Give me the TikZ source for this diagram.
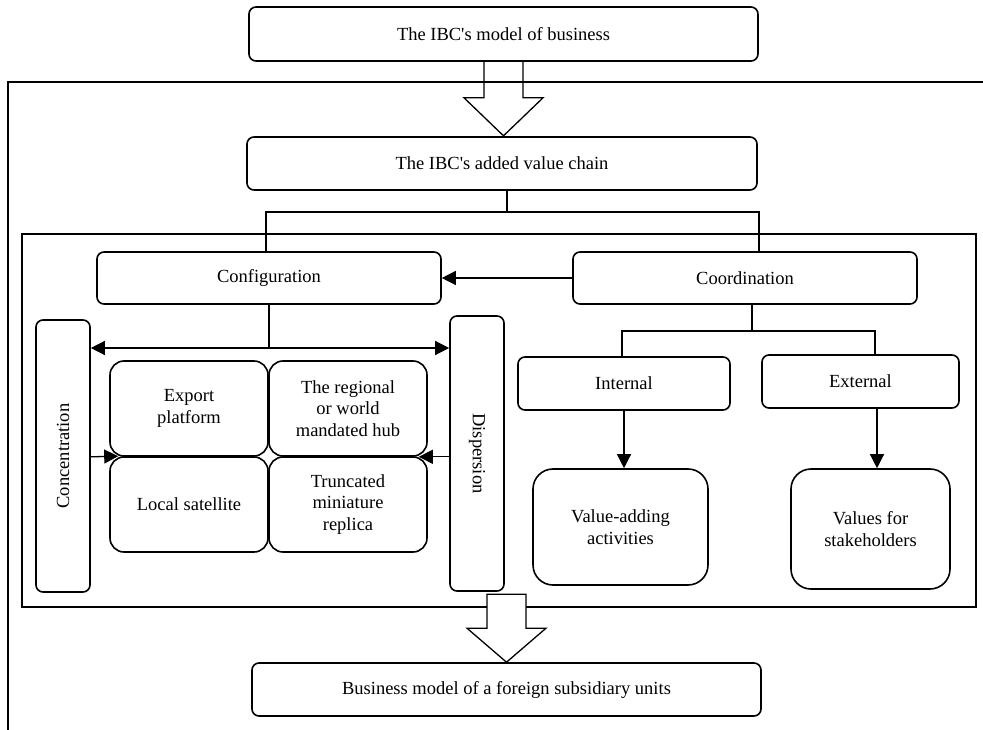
\documentclass[tikz,border=0pt]{standalone}
\usepackage{fontspec}
\setmainfont{Liberation Serif}
\usepackage{tikz}
\usetikzlibrary{calc}
\usetikzlibrary{arrows.meta}

\tikzset{
  box/.style={draw,line width=\lwbox,rounded corners=7pt,align=center,inner sep=0pt,font=\fontsize{18.5}{21.5}\selectfont},
  conn/.style={line width=\lw},
  arrowconn/.style={conn,-{Triangle[length=14pt,width=14pt]}},
  dblconn/.style={conn,{Triangle[length=14pt,width=14pt]}-{Triangle[length=14pt,width=14pt]}},
  bigarrow/.style={draw,line width=\lw,line join=miter},
}

\begin{document}
\begin{tikzpicture}[x=1pt,y=-1pt]
\def\lw{1.3pt}
\def\lwbox{1.6pt}
\def\shaft{19.5}
\def\head{39.5}

\useasboundingbox[fill=white] (0,0) rectangle (983,730);

\node[box,minimum width=509pt,minimum height=54pt] (model) at (503.5,34) {The IBC\textquotesingle s model of business};
\node[box,minimum width=510pt,minimum height=53pt] (chain) at (502,163.5) {The IBC\textquotesingle s added value chain};
\node[box,minimum width=344pt,minimum height=52pt] (config) at (269,278) {Configuration};
\node[box,minimum width=344pt,minimum height=52pt] (coord) at (745,278) {Coordination};

\node[box,minimum width=54pt,minimum height=272pt] (conc) at (63,456) {};
\node[rotate=90,font=\fontsize{18.5}{21.5}\selectfont] (conctext) at (conc) {Concentration};
\node[box,minimum width=54pt,minimum height=275pt] (disp) at (477,453.5) {};
\node[rotate=-90,font=\fontsize{18.5}{21.5}\selectfont] (disptext) at (disp) {Dispersion};

\node[box,rounded corners=14pt,minimum width=158pt,minimum height=95pt] (export) at (189,408.5) {Export\\platform};
\node[box,rounded corners=14pt,minimum width=158pt,minimum height=95pt] (hub) at (348,408.5) {The regional\\or world\\mandated hub};
\node[box,rounded corners=14pt,minimum width=158pt,minimum height=95pt] (local) at (189,504.5) {Local satellite};
\node[box,rounded corners=14pt,minimum width=158pt,minimum height=95pt] (trunc) at (348,504.5) {Truncated\\miniature\\replica};

\node[box,minimum width=212pt,minimum height=53pt] (internal) at (624,383.5) {Internal};
\node[box,minimum width=197pt,minimum height=53pt] (external) at (860.5,381.5) {External};
\node[box,rounded corners=20pt,minimum width=175pt,minimum height=116pt] (vadd) at (620.5,527) {Value-adding\\activities};
\node[box,rounded corners=20pt,minimum width=159pt,minimum height=120pt] (vstk) at (870.5,529) {Values for\\stakeholders};

\node[box,minimum width=509pt,minimum height=53pt] (bottom) at (506.5,689.5) {Business model of a foreign subsidiary units};

\draw[conn] (983,82) -- (8,82) -- (8,730);
\draw[conn] (22,234) rectangle (976,607);

\draw[bigarrow] ($(model.south)+(-\shaft,0)$) -- ++(0,36) -- ++(\shaft-\head,0) -- ++(\head,38) -- ++(\head,-38) -- ++(\shaft-\head,0) -- ++(0,-36);
\draw[bigarrow,fill=white] ($(bottom.north)+(-\shaft,-68)$) -- ++(0,34) -- ++(\shaft-\head,0) -- ++(\head,34) -- ++(\head,-34) -- ++(\shaft-\head,0) -- ++(0,-34) -- cycle;

\coordinate (chainbus) at (507,212);
\coordinate (confdrop) at (266,212);
\coordinate (coorddrop) at (759,212);
\draw[conn] (chain.south -| chainbus) -- (chainbus);
\draw[conn] (config.north -| confdrop) -- (confdrop) -- (coorddrop) -- (coord.north -| coorddrop);
\draw[arrowconn] (coord.west) -- (config.east);

\coordinate (confbus) at (269,348);
\draw[conn] (config.south) -- (confbus);
\draw[dblconn] (conc.east |- confbus) -- (disp.west |- confbus);
\draw[arrowconn] (conc.east |- export.south) -- ($(local.north west)+(9,0)$);
\draw[arrowconn] (disp.west |- hub.south) -- ($(hub.south east)+(-9,0)$);

\coordinate (coordbus) at (752,331);
\coordinate (intdrop) at (622,331);
\coordinate (extdrop) at (875,331);
\coordinate (extx) at (877,469);
\draw[conn] (coord.south -| coordbus) -- (coordbus);
\draw[conn] (internal.north -| intdrop) -- (intdrop) -- (extdrop) -- (external.north -| extdrop);
\draw[arrowconn] (internal.south) -- (internal.south |- vadd.north);
\draw[arrowconn] (external.south -| extx) -- (vstk.north -| extx);

\end{tikzpicture}
\end{document}
